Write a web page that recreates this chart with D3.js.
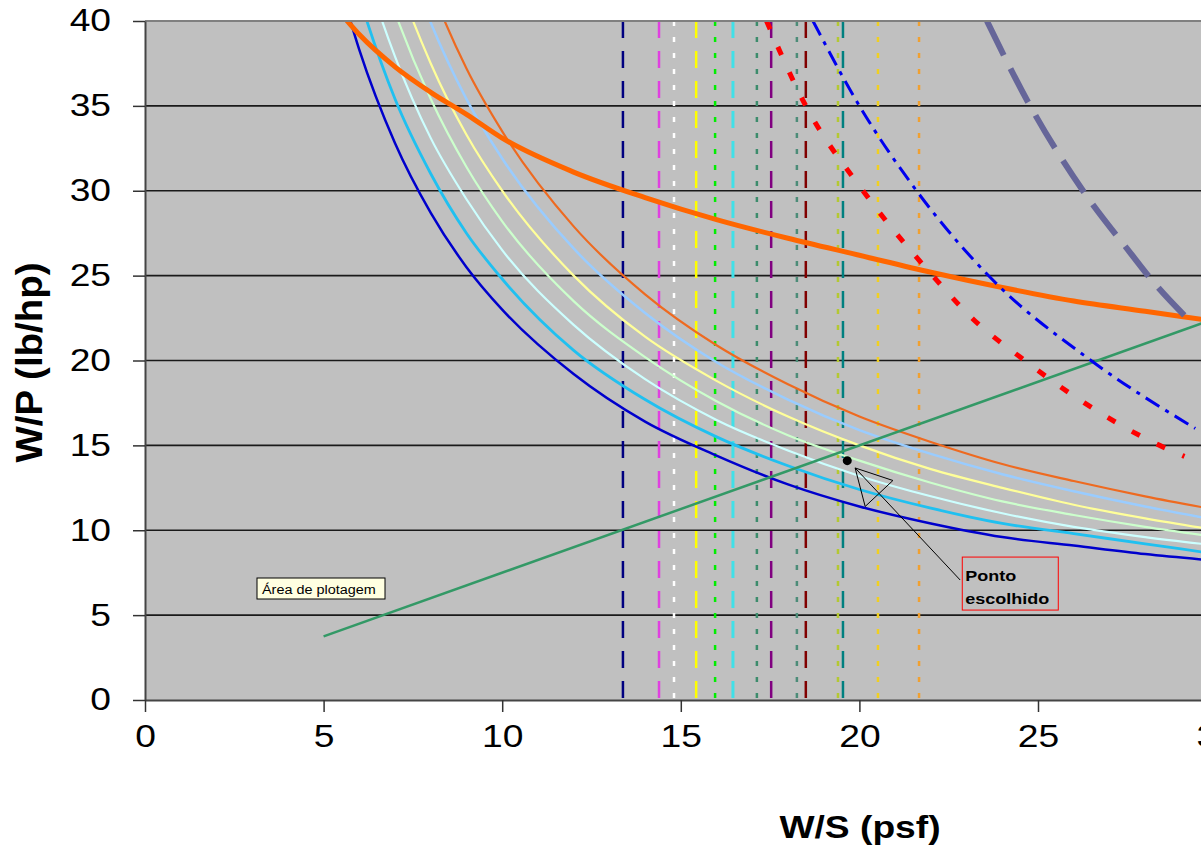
<!DOCTYPE html>
<html>
<head>
<meta charset="utf-8">
<script src="https://cdn.jsdelivr.net/npm/d3@7/dist/d3.min.js"></script>
<style>
body { margin: 0; background: #fff; overflow: hidden; }
text { font-family: "Liberation Sans", Arial, sans-serif; }
</style>
</head>
<body>
<div class="mainviz"></div>
<script>
// W/S values shared by the power/wing-loading curves
var wsGrid = [5.5, 6, 7, 8, 9, 10, 12, 14, 16, 18, 20, 22, 24, 26, 28, 30];

var curveBlue       = [41.8, 38.3, 32.8, 28.7, 25.5, 23.0, 19.2, 16.4, 14.4, 12.7, 11.4, 10.4, 9.6, 9.1, 8.6, 8.2];
var curveSky        = [45.0, 41.4, 35.4, 31.0, 27.5, 24.8, 20.6, 17.7, 15.5, 13.8, 12.4, 11.3, 10.4, 9.8, 9.2, 8.6];
var curveLightCyan  = [48.0, 44.2, 37.9, 33.1, 29.5, 26.5, 22.1, 18.9, 16.5, 14.7, 13.2, 12.0, 11.0, 10.2, 9.6, 9.1];
var curveLightGreen = [51.0, 47.0, 40.5, 35.4, 31.4, 28.2, 23.5, 20.2, 17.6, 15.6, 14.1, 12.8, 11.7, 10.9, 10.2, 9.6];
var curveYellow     = [54.5, 50.0, 42.9, 37.5, 33.3, 30.0, 25.0, 21.4, 18.8, 16.7, 15.0, 13.6, 12.5, 11.5, 10.7, 10.0];
var curveLightBlue  = [58.0, 53.2, 45.6, 39.9, 35.4, 31.9, 26.6, 22.8, 19.9, 17.7, 15.9, 14.5, 13.3, 12.3, 11.4, 10.6];
var curveOrange     = [61.0, 56.0, 48.0, 42.0, 37.2, 33.5, 27.9, 23.9, 20.9, 18.6, 16.7, 15.2, 13.9, 12.9, 12.0, 11.2];
var curveCeiling    = [40.4, 39.2, 37.3, 35.8, 34.5, 33.1, 31.1, 29.6, 28.3, 27.2, 26.2, 25.2, 24.3, 23.5, 22.9, 22.3];

// dashed constraint curves on the right
var redWS   = [17.4, 18.5, 20.1, 22.05, 23.2, 24.5, 26.3, 28.3, 29.1];
var redWP   = [40, 35, 30, 25, 22.4, 20.2, 17.5, 15.1, 14.35];
var dashDotWS = [18.7, 20.0, 21.6, 23.66, 26.55, 29.4];
var dashDotWP = [40, 35, 30, 24.9, 19.9, 16.0];
var slateWS = [23.57, 24.78, 26.26, 27.6, 28.2, 29.17];
var slateWP = [40, 35, 30, 26.3, 24.7, 22.5];

// straight green line
var greenWS = [5, 30];
var greenWP = [3.75, 22.5];

// vertical W/S limits
var stallWS = [13.38, 14.39, 14.81, 15.43, 15.96, 16.46, 17.13, 17.53, 18.25, 18.5, 19.4, 19.54, 20.52, 21.67];
var stallColors = ["#000080", "#e040e0", "#ffffff", "#ffff00", "#00ee00", "#40e0e8", "#3c8c6c",
                   "#800080", "#4c8c78", "#800000", "#b4c832", "#008080", "#f0d020", "#f0a030"];
var stallStyle = ["long", "long", "dot", "long", "dot", "long", "dot",
                  "long", "dot", "long", "dot", "long", "dot", "dot"];

// chosen design point and its callout
var chosenWS = 19.66, chosenWP = 14.1;
var arrowTip = [19.88, 13.67], arrowTail = [22.82, 7.07];
var calloutCorner = [22.88, 8.42];
var calloutLines = ["Ponto", "escolhido"];

var xTicks = [0, 5, 10, 15, 20, 25, 30];
var yTicks = [0, 5, 10, 15, 20, 25, 30, 35, 40];

var width = 1201, height = 849;

var svg = d3.select(".mainviz").append("svg")
	.attr("width", width)
	.attr("height", height);

var x = d3.scaleLinear().domain([0, 30]).range([145, 1216.6]);
var y = d3.scaleLinear().domain([0, 40]).range([700, 21]);

function stretch(sel, k) {
	sel.each(function() {
		var w = this.getComputedTextLength();
		d3.select(this).attr("textLength", w * k).attr("lengthAdjust", "spacingAndGlyphs");
	});
}

svg.append("defs").append("clipPath").attr("id", "plotclip")
	.append("rect")
	.attr("x", x(0)).attr("y", y(40))
	.attr("width", x(30) - x(0)).attr("height", y(0) - y(40));

svg.append("rect")
	.attr("x", x(0)).attr("y", y(40))
	.attr("width", x(30) - x(0)).attr("height", y(0) - y(40))
	.attr("fill", "#c0c0c0");

var plot = svg.append("g").attr("clip-path", "url(#plotclip)");

// gridlines
plot.selectAll("line.grid")
	.data(yTicks.filter(function(d){ return d > 0 && d < 40; }))
	.enter().append("line")
	.attr("class", "grid")
	.attr("x1", x(0)).attr("x2", x(30))
	.attr("y1", function(d){ return y(d); }).attr("y2", function(d){ return y(d); })
	.attr("stroke", "#1a1a1a").attr("stroke-width", 1.6);

svg.append("line")
	.attr("x1", x(0)).attr("x2", x(30))
	.attr("y1", y(40)).attr("y2", y(40))
	.attr("stroke", "#808080").attr("stroke-width", 2);

// vertical limits
plot.selectAll("line.stall")
	.data(stallWS)
	.enter().append("line")
	.attr("class", "stall")
	.attr("x1", function(d){ return x(d); }).attr("x2", function(d){ return x(d); })
	.attr("y1", y(40)).attr("y2", y(0))
	.attr("stroke", function(d, i){ return stallColors[i]; })
	.attr("stroke-width", function(d, i){ return i == 5 ? 3 : 2.5; })
	.attr("stroke-dasharray", function(d, i){ return stallStyle[i] == "long" ? "17,13" : "5,11"; });

var line = d3.line()
	.x(function(d){ return x(d[0]); })
	.y(function(d){ return y(d[1]); })
	.curve(d3.curveMonotoneX);

function pairs(xs, ys) { return xs.map(function(v, i){ return [v, ys[i]]; }); }

var curves = [
	{ ys: curveOrange, color: "#ee6a20", w: 2.2 },
	{ ys: curveLightBlue, color: "#99ccff", w: 2.5 },
	{ ys: curveYellow, color: "#ffff99", w: 2.2 },
	{ ys: curveLightGreen, color: "#ccffcc", w: 2.2 },
	{ ys: curveLightCyan, color: "#ccffff", w: 2.2 },
	{ ys: curveSky, color: "#20c0f0", w: 2.8 },
	{ ys: curveBlue, color: "#0000cc", w: 2.5 }
];

curves.forEach(function(c) {
	plot.append("path")
		.attr("d", line(pairs(wsGrid, c.ys)))
		.attr("fill", "none")
		.attr("stroke", c.color)
		.attr("stroke-width", c.w);
});

plot.append("path")
	.attr("d", line(pairs(greenWS, greenWP)))
	.attr("fill", "none")
	.attr("stroke", "#339966")
	.attr("stroke-width", 2.5);

plot.append("path")
	.attr("d", line(pairs(wsGrid, curveCeiling)))
	.attr("fill", "none")
	.attr("stroke", "#ff6600")
	.attr("stroke-width", 5);

plot.append("path")
	.attr("d", line(pairs(redWS, redWP)))
	.attr("fill", "none")
	.attr("stroke", "#ff0000")
	.attr("stroke-width", 5)
	.attr("stroke-dasharray", "9,19");

plot.append("path")
	.attr("d", line(pairs(dashDotWS, dashDotWP)))
	.attr("fill", "none")
	.attr("stroke", "#0000ee")
	.attr("stroke-width", 3)
	.attr("stroke-dasharray", "16,7,4,7");

plot.append("path")
	.attr("d", line(pairs(slateWS, slateWP)))
	.attr("fill", "none")
	.attr("stroke", "#666699")
	.attr("stroke-width", 6)
	.attr("stroke-dasharray", "38,15");

// chosen point
svg.append("circle")
	.attr("cx", x(chosenWS)).attr("cy", y(chosenWP))
	.attr("r", 4.5)
	.attr("fill", "#000");

// open arrow to the point
var tip = [x(arrowTip[0]), y(arrowTip[1])], tail = [x(arrowTail[0]), y(arrowTail[1])];
var dx = tail[0] - tip[0], dy = tail[1] - tip[1], len = Math.sqrt(dx * dx + dy * dy);
var ux = dx / len, uy = dy / len;
var bx = tip[0] + ux * 35, by = tip[1] + uy * 35;
svg.append("line")
	.attr("x1", tail[0]).attr("y1", tail[1])
	.attr("x2", tip[0]).attr("y2", tip[1])
	.attr("stroke", "#000").attr("stroke-width", 1);
svg.append("path")
	.attr("d", "M" + tip[0] + "," + tip[1] +
		"L" + (bx + uy * 19) + "," + (by - ux * 19) +
		"L" + (bx - uy * 19) + "," + (by + ux * 19) + "Z")
	.attr("fill", "none")
	.attr("stroke", "#000").attr("stroke-width", 1);

// callout box
var cx0 = x(calloutCorner[0]), cy0 = y(calloutCorner[1]);
svg.append("rect")
	.attr("x", cx0).attr("y", cy0)
	.attr("width", 96).attr("height", 53)
	.attr("fill", "none")
	.attr("stroke", "#ff0000").attr("stroke-width", 1);
svg.selectAll("text.callout")
	.data(calloutLines)
	.enter().append("text")
	.attr("class", "callout")
	.attr("x", cx0 + 3)
	.attr("y", function(d, i){ return cy0 + 24 + i * 23; })
	.attr("font-size", 15)
	.attr("font-weight", "bold")
	.text(function(d){ return d; })
	.call(stretch, 1.2);

// tooltip left in the screenshot
svg.append("rect")
	.attr("x", 257).attr("y", 578)
	.attr("width", 128).attr("height", 21)
	.attr("fill", "#ffffe1")
	.attr("stroke", "#000").attr("stroke-width", 1);
svg.append("text")
	.attr("x", 262).attr("y", 594)
	.attr("font-size", 12)
	.text("Área de plotagem")
	.call(stretch, 1.2);

// axes
var yAxis = d3.axisLeft(y).tickValues(yTicks).tickSizeInner(12).tickSizeOuter(0).tickPadding(22);
var xAxis = d3.axisBottom(x).tickValues(xTicks).tickSizeInner(12).tickSizeOuter(0).tickPadding(13);

var gy = svg.append("g")
	.attr("transform", "translate(" + x(0) + ",0)")
	.call(yAxis);
var gx = svg.append("g")
	.attr("transform", "translate(0," + y(0) + ")")
	.call(xAxis);

[gx, gy].forEach(function(g) {
	g.select(".domain").attr("stroke", "#444").attr("stroke-width", 2);
	g.selectAll(".tick line").attr("stroke", "#333").attr("stroke-width", 1.5);
	g.selectAll(".tick text")
		.attr("fill", "#000")
		.attr("font-size", 31)
		.attr("font-family", "Liberation Sans, Arial, sans-serif")
		.call(stretch, 1.2);
});

svg.append("text")
	.attr("transform", "translate(42," + ((y(0) + y(40)) / 2 + 2) + ") rotate(-90)")
	.attr("text-anchor", "middle")
	.attr("font-size", 37)
	.attr("font-weight", "bold")
	.attr("textLength", 200)
	.attr("lengthAdjust", "spacingAndGlyphs")
	.text("W/P (lb/hp)");

svg.append("text")
	.attr("x", 860).attr("y", 838)
	.attr("text-anchor", "middle")
	.attr("font-size", 31)
	.attr("font-weight", "bold")
	.text("W/S (psf)")
	.call(stretch, 1.2);
</script>
</body>
</html>
